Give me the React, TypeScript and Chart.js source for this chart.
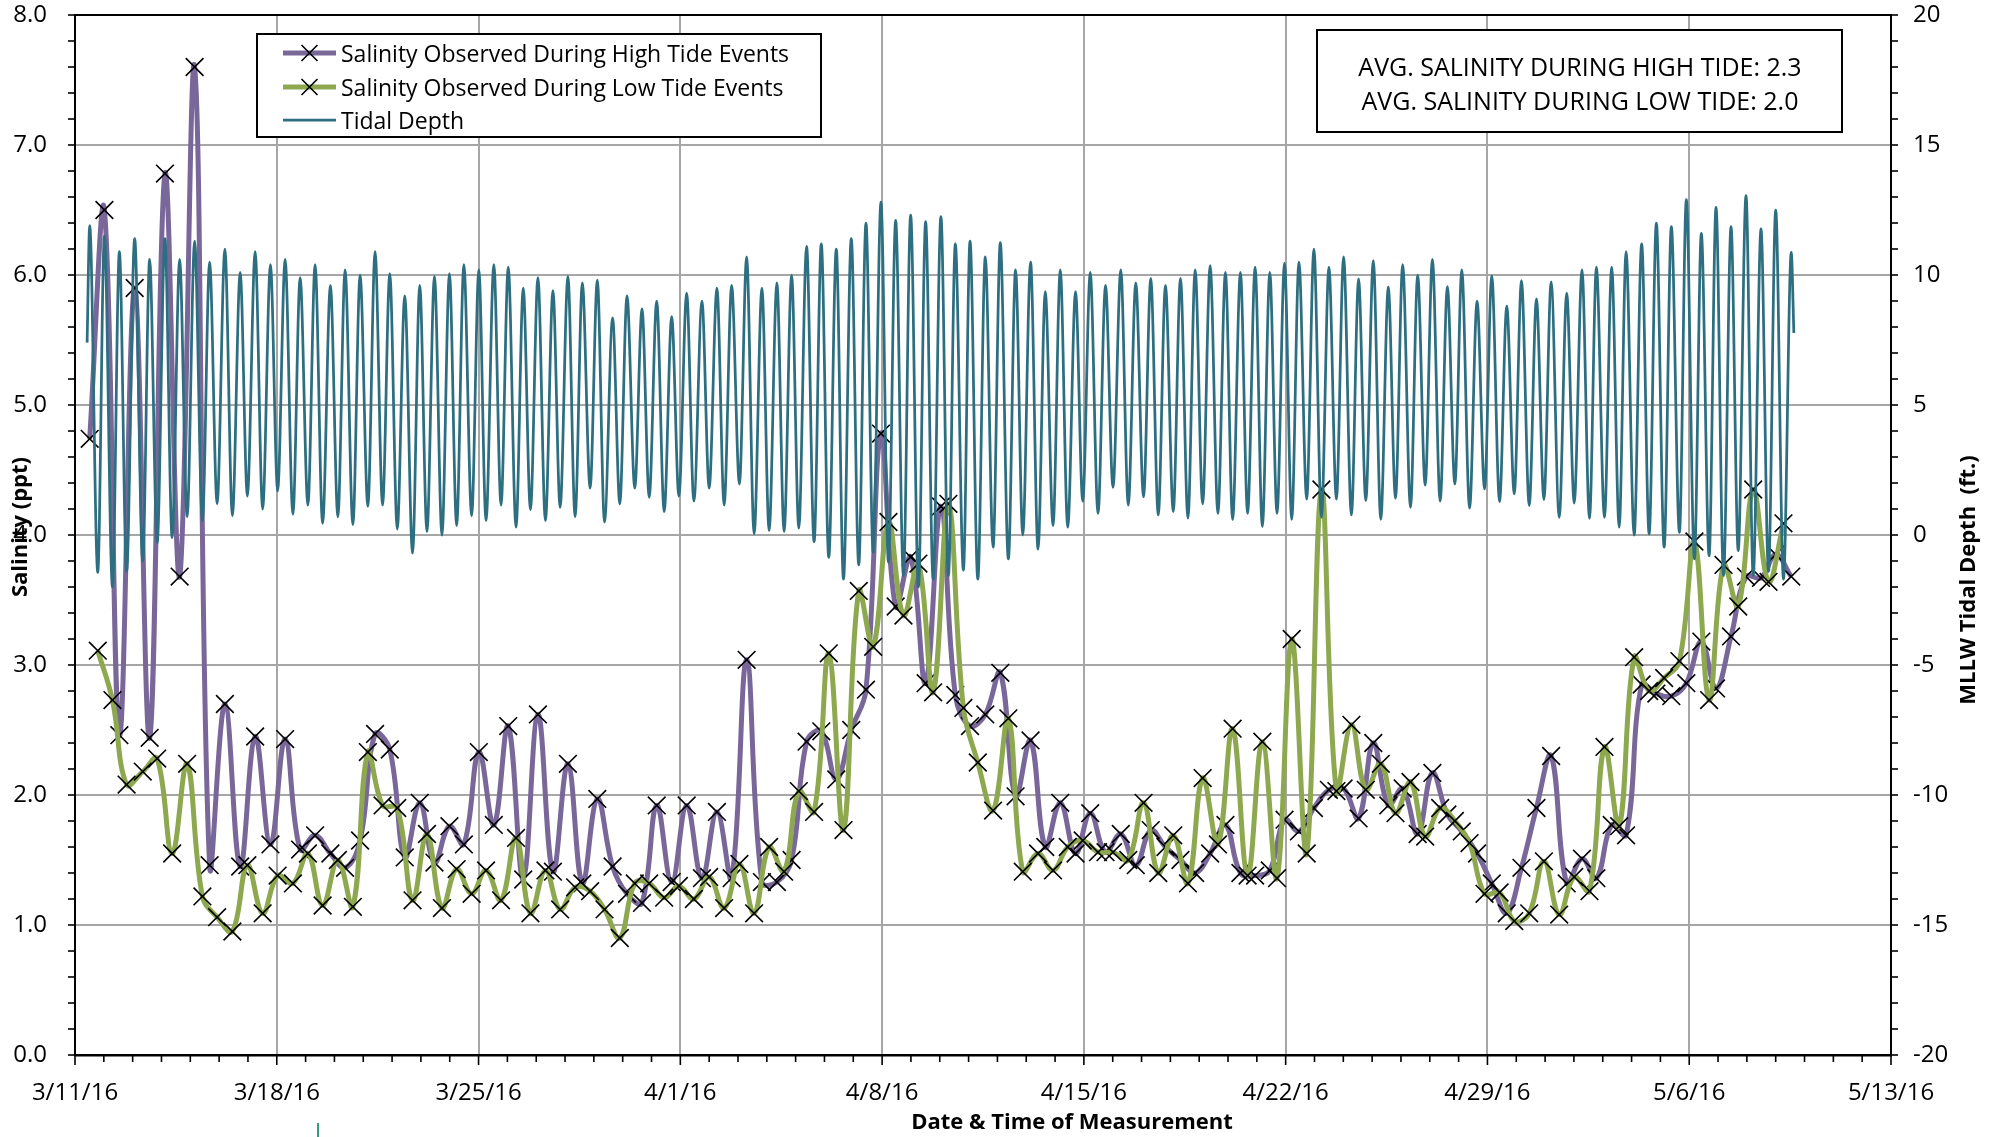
import React, { useEffect, useRef } from 'react';
import { Chart, registerables } from 'chart.js';

Chart.register(...registerables);

// ---------- DATA (days after 3/11/16 00:00) ----------
const highTideDays = [
  0.51, 1.02, 1.54, 2.07, 2.59, 3.12, 3.63, 4.15, 4.67, 5.20,
  5.73, 6.25, 6.78, 7.29, 7.81, 8.33, 8.86, 9.37, 9.89, 10.41,
  10.92, 11.44, 11.96, 12.47, 12.99, 13.49, 14.01, 14.53, 15.03, 15.55,
  16.06, 16.58, 17.10, 17.60, 18.12, 18.65, 19.15, 19.67, 20.18, 20.70,
  21.22, 21.75, 22.27, 22.78, 23.30, 23.83, 24.35, 24.86, 25.38, 25.89,
  26.41, 26.93, 27.44, 27.96, 28.47, 28.99, 29.51, 30.04, 30.54, 31.05,
  31.58, 32.10, 32.63, 33.15, 33.66, 34.18, 34.71, 35.22, 35.75, 36.28,
  36.80, 37.32, 37.83, 38.35, 38.86, 39.38, 39.91, 40.43, 40.94, 41.45,
  41.96, 42.46, 42.98, 43.50, 44.01, 44.53, 45.04, 45.56, 46.06, 46.58,
  47.09, 47.61, 48.11, 48.64, 49.15, 49.67, 50.18, 50.70, 51.21, 51.75,
  52.28, 52.78, 53.31, 53.81, 54.35, 54.86, 55.38, 55.90, 56.42, 56.93,
  57.45, 57.97, 58.49, 59.00, 59.54,
];
const highTideDepth = [
  11.9, 11.5, 10.9, 11.4, 10.6, 11.4, 10.6, 11.3, 10.5, 11.0,
  10.1, 10.9, 10.4, 10.6, 9.9, 10.4, 9.6, 10.2, 10.0, 10.9,
  10.05, 9.2, 9.6, 9.95, 10.05, 10.4, 10.2, 10.4, 10.3, 9.5,
  9.9, 9.4, 9.95, 9.7, 9.8, 8.35, 9.2, 8.7, 9.0, 8.4,
  9.3, 9.0, 9.5, 9.6, 10.7, 9.5, 9.7, 10.0, 11.1, 11.2,
  11.0, 11.4, 12.0, 12.8, 12.1, 12.3, 12.05, 12.25, 11.2, 11.3,
  10.7, 11.25, 10.2, 10.5, 9.36, 10.2, 9.36, 10.1, 9.6, 10.2,
  9.7, 9.87, 9.6, 9.87, 10.2, 10.36, 10.1, 10.1, 10.3, 10.1,
  10.46, 10.5, 11.0, 10.3, 10.7, 9.85, 10.55, 9.54, 10.4, 10.0,
  10.6, 9.55, 10.2, 9.0, 9.97, 8.8, 9.78, 9.08, 9.74, 9.3,
  10.2, 10.3, 10.3, 10.9, 11.2, 12.0, 11.86, 12.9, 11.6, 12.6,
  11.86, 13.05, 11.77, 12.5, 10.87,
];
const highTideSalinity = [
  4.74, 6.50, 2.46, 5.90, 2.44, 6.78, 3.68, 7.60, 1.46, 2.70,
  1.45, 2.45, 1.62, 2.43, 1.58, 1.69, 1.55, 1.44, 1.65, 2.47,
  2.35, 1.52, 1.94, 1.48, 1.76, 1.62, 2.33, 1.77, 2.53, 1.35,
  2.62, 1.41, 2.24, 1.32, 1.97, 1.45, 1.24, 1.17, 1.92, 1.33,
  1.92, 1.36, 1.87, 1.36, 3.04, 1.33, 1.33, 1.50, 2.41, 2.49,
  2.12, 2.50, 2.81, 4.78, 3.45, 3.83, 2.86, 4.22, 2.77, 2.53,
  2.62, 2.94, 1.99, 2.42, 1.60, 1.94, 1.55, 1.86, 1.56, 1.70,
  1.46, 1.73, 1.60, 1.50, 1.40, 1.55, 1.77, 1.40, 1.38, 1.42,
  1.81, 1.72, 1.90, 2.04, 2.05, 1.82, 2.40, 1.92, 2.05, 1.70,
  2.17, 1.85, 1.72, 1.55, 1.32, 1.09, 1.44, 1.90, 2.30, 1.32,
  1.51, 1.36, 1.77, 1.69, 2.85, 2.78, 2.76, 2.86, 3.18, 2.82,
  3.22, 3.68, 3.67, 3.85, 3.68,
];

const lowTideDays = [
  0.79, 1.30, 1.79, 2.35, 2.85, 3.37, 3.89, 4.42, 4.93, 5.46,
  5.98, 6.51, 7.03, 7.56, 8.08, 8.59, 9.12, 9.64, 10.16, 10.67,
  11.18, 11.71, 12.21, 12.73, 13.24, 13.76, 14.26, 14.78, 15.30, 15.80,
  16.32, 16.83, 17.35, 17.87, 18.37, 18.90, 19.42, 19.92, 20.44, 20.95,
  21.47, 22.00, 22.52, 23.05, 23.56, 24.08, 24.60, 25.11, 25.64, 26.15,
  26.66, 27.19, 27.69, 28.22, 28.74, 29.26, 29.77, 30.30, 30.82, 31.32,
  31.85, 32.38, 32.88, 33.41, 33.93, 34.44, 34.96, 35.49, 36.01, 36.54,
  37.07, 37.58, 38.10, 38.61, 39.12, 39.65, 40.16, 40.68, 41.19, 41.70,
  42.21, 42.73, 43.24, 43.76, 44.28, 44.78, 45.30, 45.81, 46.33, 46.84,
  47.36, 47.87, 48.38, 48.90, 49.42, 49.93, 50.45, 50.96, 51.49, 52.01,
  52.54, 53.06, 53.57, 54.09, 54.61, 55.13, 55.66, 56.18, 56.69, 57.19,
  57.70, 58.22, 58.75, 59.27,
];
const lowTideDepth = [
  -1.44, -2.0, -1.4, -1.0, -0.3, -0.1, 0.7, 0.55, 1.2, 0.74,
  1.5, 1.0, 1.7, 0.8, 1.15, 0.45, 0.7, 0.4, 1.1, 1.15,
  0.23, -0.7, 0.13, 0.0, 0.36, 0.74, 0.55, 1.15, 0.3, 0.97,
  0.55, 1.06, 0.7, 1.8, 0.5, 1.2, 1.8, 1.45, 0.9, 1.5,
  1.3, 1.8, 1.15, 1.96, 0.04, 0.17, 0.13, 0.26, -0.26, -0.86,
  -1.7, -1.15, -0.67, -1.05, -1.56, -2.0, -1.7, -1.56, -1.35, -1.7,
  -0.47, -0.92, 0.0, -0.54, 0.36, 0.3, 1.3, 0.83, 1.83, 1.15,
  1.47, 0.77, 0.9, 0.65, 1.2, 0.83, 0.59, 0.83, 0.32, 0.83,
  0.6, 1.38, 0.68, 1.38, 0.77, 1.32, 0.6, 1.41, 1.06, 1.92,
  1.3, 1.96, 1.03, 1.77, 1.28, 1.58, 1.13, 1.36, 0.68, 1.23,
  0.64, 0.68, 0.3, 0.0, 0.04, -0.47, 0.1, -0.92, -0.8, -1.56,
  -0.6, -1.56, -1.4, -1.7,
];
const lowTideSalinity = [
  3.11, 2.73, 2.08, 2.18, 2.28, 1.55, 2.24, 1.22, 1.06, 0.95,
  1.46, 1.09, 1.38, 1.32, 1.55, 1.15, 1.50, 1.14, 2.33, 1.92,
  1.90, 1.19, 1.70, 1.13, 1.43, 1.24, 1.42, 1.19, 1.67, 1.09,
  1.42, 1.12, 1.29, 1.26, 1.12, 0.90, 1.32, 1.32, 1.21, 1.30,
  1.20, 1.37, 1.13, 1.47, 1.09, 1.60, 1.41, 2.03, 1.87, 3.09,
  1.73, 3.57, 3.14, 4.10, 3.38, 3.78, 2.79, 4.24, 2.67, 2.25,
  1.88, 2.59, 1.41, 1.55, 1.42, 1.60, 1.65, 1.56, 1.56, 1.50,
  1.94, 1.40, 1.69, 1.32, 2.13, 1.62, 2.51, 1.38, 2.41, 1.36,
  3.20, 1.55, 4.35, 2.03, 2.54, 2.04, 2.24, 1.86, 2.10, 1.68,
  1.90, 1.80, 1.63, 1.24, 1.25, 1.03, 1.09, 1.49, 1.08, 1.37,
  1.26, 2.37, 1.76, 3.06, 2.80, 2.90, 3.03, 3.95, 2.73, 3.77,
  3.45, 4.35, 3.64, 4.09,
];

// first and last recorded tidal depth (record starts/ends mid-cycle)
const tideRecordStart = [0.42, 7.4];
const tideRecordEnd = [59.63, 7.77];

const weekTickDays = [0, 7, 14, 21, 28, 35, 42, 49, 56, 63];
const avgLines = ['AVG. SALINITY DURING HIGH TIDE: 2.3', 'AVG. SALINITY DURING LOW TIDE: 2.0'];
const seriesNames = ['Salinity Observed During High Tide Events', 'Salinity Observed During Low Tide Events', 'Tidal Depth'];

// ---------- STYLE ----------
const PURPLE = '#79679A';
const GREEN = '#8EA850';
const TEAL = '#2D6F80';
const GRID = '#A6A6A6';
const FONT = "'Open Sans', 'Noto Sans', sans-serif";

function dateLabel(v: number) {
  const d = new Date(2016, 2, 11 + Math.round(v));
  return `${d.getMonth() + 1}/${d.getDate()}/16`;
}

function drawX(ctx: CanvasRenderingContext2D, x: number, y: number, h: number) {
  ctx.beginPath();
  ctx.moveTo(x - h, y - h);
  ctx.lineTo(x + h, y + h);
  ctx.moveTo(x - h, y + h);
  ctx.lineTo(x + h, y - h);
  ctx.stroke();
}

const extras = {
  id: 'extras',
  afterDraw(chart: any) {
    const ctx: CanvasRenderingContext2D = chart.ctx;
    const { left, right, top, bottom } = chart.chartArea;
    const xs = chart.scales.x;
    const ys = chart.scales.y;
    const y2 = chart.scales.y2;
    ctx.save();
    ctx.strokeStyle = '#000';

    // top frame line
    ctx.lineWidth = 2;
    ctx.beginPath();
    ctx.moveTo(left, top);
    ctx.lineTo(right, top);
    ctx.stroke();

    // x ticks (daily minor, weekly major)
    ctx.lineWidth = 1.6;
    for (let d = 0; d <= 63; d++) {
      const px = xs.getPixelForValue(d);
      ctx.beginPath();
      ctx.moveTo(px, bottom);
      ctx.lineTo(px, bottom + (d % 7 === 0 ? 10 : 7));
      ctx.stroke();
    }
    // left ticks every 0.2
    for (let i = 0; i <= 40; i++) {
      const py = ys.getPixelForValue(i * 0.2);
      ctx.beginPath();
      ctx.moveTo(left - 7, py);
      ctx.lineTo(left, py);
      ctx.stroke();
    }
    // right ticks every 1 ft
    for (let v = -20; v <= 20; v++) {
      const py = y2.getPixelForValue(v);
      ctx.beginPath();
      ctx.moveTo(right, py);
      ctx.lineTo(right + 7, py);
      ctx.stroke();
    }

    // axis titles
    ctx.fillStyle = '#000';
    ctx.font = `bold 22px ${FONT}`;
    ctx.textAlign = 'center';
    ctx.textBaseline = 'middle';
    ctx.fillText('Date & Time of Measurement', 1072, 1123);
    ctx.save();
    ctx.translate(21, 527);
    ctx.rotate(-Math.PI / 2);
    ctx.fillText('Salinity (ppt)', 0, 0);
    ctx.restore();
    ctx.save();
    ctx.translate(1969, 580);
    ctx.rotate(-Math.PI / 2);
    ctx.fillText('MLLW Tidal Depth  (ft.)', 0, 0);
    ctx.restore();

    // legend box
    ctx.fillStyle = '#fff';
    ctx.fillRect(257, 34, 564, 103);
    ctx.lineWidth = 2;
    ctx.strokeStyle = '#000';
    ctx.strokeRect(257, 34, 564, 103);
    const legY = [53, 87, 120];
    const legColors = [PURPLE, GREEN, TEAL];
    const legWidths = [5, 5, 2.75];
    for (let i = 0; i < 3; i++) {
      ctx.strokeStyle = legColors[i];
      ctx.lineWidth = legWidths[i];
      ctx.beginPath();
      ctx.moveTo(283, legY[i]);
      ctx.lineTo(336, legY[i]);
      ctx.stroke();
      if (i < 2) {
        ctx.strokeStyle = '#000';
        ctx.lineWidth = 1.6;
        drawX(ctx, 309.5, legY[i], 8);
      }
      ctx.fillStyle = '#000';
      ctx.font = `23px ${FONT}`;
      ctx.textAlign = 'left';
      ctx.textBaseline = 'middle';
      ctx.fillText(seriesNames[i], 341, legY[i] + 2);
    }

    // averages box
    ctx.fillStyle = '#fff';
    ctx.fillRect(1317, 30, 525, 102);
    ctx.strokeStyle = '#000';
    ctx.lineWidth = 2;
    ctx.strokeRect(1317, 30, 525, 102);
    ctx.fillStyle = '#000';
    ctx.font = `25px ${FONT}`;
    ctx.textAlign = 'center';
    ctx.textBaseline = 'middle';
    ctx.fillText(avgLines[0], 1580, 69);
    ctx.fillText(avgLines[1], 1580, 103);

    // small mark below the axis
    ctx.strokeStyle = '#3A9A80';
    ctx.lineWidth = 2;
    ctx.beginPath();
    ctx.moveTo(318, 1123);
    ctx.lineTo(318, 1137);
    ctx.stroke();

    ctx.restore();
  },
};

export default function App() {
  const ref = useRef<HTMLCanvasElement>(null);
  useEffect(() => {
    document.body.style.margin = '0';
    const canvas = ref.current!;

    const highPts = highTideDays.map((d, i) => ({ x: d, y: highTideSalinity[i] }));
    const lowPts = lowTideDays.map((d, i) => ({ x: d, y: lowTideSalinity[i] }));
    const tidePts = [
      { x: tideRecordStart[0], y: tideRecordStart[1] },
      ...highTideDays.map((d, i) => ({ x: d, y: highTideDepth[i] })),
      ...lowTideDays.map((d, i) => ({ x: d, y: lowTideDepth[i] })),
      { x: tideRecordEnd[0], y: tideRecordEnd[1] },
    ].sort((a, b) => a.x - b.x);

    const tickFont = { family: FONT, size: 24 };

    const chart = new Chart(canvas, {
      type: 'line',
      data: {
        datasets: [
          {
            label: seriesNames[0],
            data: highPts,
            yAxisID: 'y',
            borderColor: PURPLE,
            borderWidth: 5,
            tension: 0.4,
            pointStyle: 'crossRot',
            pointRadius: 12.5,
            pointBorderColor: '#000',
            pointBorderWidth: 1.6,
            pointBackgroundColor: 'rgba(0,0,0,0)',
            order: 2,
          },
          {
            label: seriesNames[1],
            data: lowPts,
            yAxisID: 'y',
            borderColor: GREEN,
            borderWidth: 5,
            tension: 0.4,
            pointStyle: 'crossRot',
            pointRadius: 12.5,
            pointBorderColor: '#000',
            pointBorderWidth: 1.6,
            pointBackgroundColor: 'rgba(0,0,0,0)',
            order: 1,
          },
          {
            label: seriesNames[2],
            data: tidePts,
            yAxisID: 'y2',
            borderColor: TEAL,
            borderWidth: 2.75,
            cubicInterpolationMode: 'monotone',
            pointRadius: 0,
            order: 0,
          },
        ],
      },
      options: {
        responsive: false,
        animation: false,
        devicePixelRatio: 1,
        events: [],
        layout: { padding: { top: 15, left: 0, right: 0, bottom: 0 } },
        plugins: {
          legend: { display: false },
          tooltip: { enabled: false },
          title: { display: false },
        },
        scales: {
          x: {
            type: 'linear',
            min: 0,
            max: 63,
            afterFit: (s: any) => { s.height = 82; },
            afterBuildTicks: (s: any) => { s.ticks = weekTickDays.map((v) => ({ value: v })); },
            ticks: {
              autoSkip: false,
              maxRotation: 0,
              padding: 24,
              color: '#000',
              font: tickFont,
              callback: (v: any) => dateLabel(Number(v)),
            },
            grid: { color: GRID, lineWidth: 2, drawTicks: false },
            border: { color: '#000', width: 2.5 },
          },
          y: {
            position: 'left',
            min: 0,
            max: 8,
            afterFit: (s: any) => { s.width = 75; s.paddingTop = 0; s.paddingBottom = 0; },
            ticks: {
              stepSize: 1,
              padding: 28,
              color: '#000',
              font: tickFont,
              callback: (v: any) => Number(v).toFixed(1),
            },
            grid: { color: GRID, lineWidth: 2, drawTicks: false },
            border: { color: '#000', width: 2 },
          },
          y2: {
            position: 'right',
            min: -20,
            max: 20,
            afterFit: (s: any) => { s.width = 104; s.paddingTop = 0; s.paddingBottom = 0; },
            ticks: {
              stepSize: 5,
              padding: 22,
              color: '#000',
              font: tickFont,
            },
            grid: { drawOnChartArea: false, drawTicks: false },
            border: { color: '#000', width: 2 },
          },
        },
      },
      plugins: [extras],
    } as any);

    return () => chart.destroy();
  }, []);

  return (
    <canvas
      ref={ref}
      width={1995}
      height={1137}
      style={{ display: 'block', width: '1995px', height: '1137px' }}
    />
  );
}
